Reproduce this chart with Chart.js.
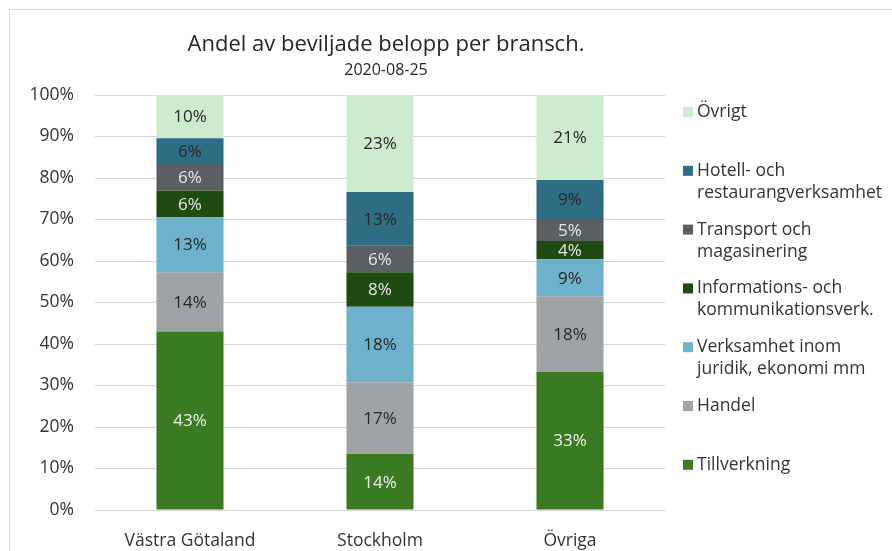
<!DOCTYPE html>
<html>
<head>
<meta charset="utf-8">
<script src="https://cdn.jsdelivr.net/npm/chart.js@4.4.1/dist/chart.umd.min.js"></script>
<style>
  html, body { margin: 0; padding: 0; background: #fff; }
  #wrap { width: 892px; height: 551px; position: relative; }
</style>
</head>
<body>
<div id="wrap"><canvas id="chart_andelBransch"></canvas></div>
<script>
// data (share in % of granted amount)
const regions = ['Västra Götaland', 'Stockholm', 'Övriga'];
const tillverkning = [43.0, 13.5, 33.3];
const handel = [14.3, 17.3, 18.2];
const juridikEkonomi = [13.3, 18.2, 8.9];
const infoKomm = [6.4, 8.3, 4.4];
const transport = [6.4, 6.4, 5.3];
const hotellRestaurang = [6.2, 12.9, 9.4];
const ovrigt = [10.4, 23.4, 20.5];
const yTicks = ['0%', '10%', '20%', '30%', '40%', '50%', '60%', '70%', '80%', '90%', '100%'];

const FONT = "'Open Sans', sans-serif";

const series = [
  { label: ['Tillverkning'], data: tillverkning, color: '#3a7a22', text: '#f2f2f2' },
  { label: ['Handel'], data: handel, color: '#a0a3a5', text: '#262626' },
  { label: ['Verksamhet inom', 'juridik, ekonomi mm'], data: juridikEkonomi, color: '#6eb1cb', text: '#262626' },
  { label: ['Informations- och', 'kommunikationsverk.'], data: infoKomm, color: '#1f4a10', text: '#e8e8e8' },
  { label: ['Transport och', 'magasinering'], data: transport, color: '#5b5f61', text: '#e8e8e8' },
  { label: ['Hotell- och', 'restaurangverksamhet'], data: hotellRestaurang, color: '#2e6d84', text: '#262626' },
  { label: ['Övrigt'], data: ovrigt, color: '#cdecce', text: '#262626' }
];

const extras = {
  id: 'extras',
  afterDatasetsDraw: (chart) => {
    const ctx = chart.ctx;
    ctx.save();
    ctx.font = '17px ' + FONT;
    ctx.textAlign = 'center';
    ctx.textBaseline = 'middle';
    chart.data.datasets.forEach((ds, i) => {
      const meta = chart.getDatasetMeta(i);
      meta.data.forEach((bar, j) => {
        ctx.fillStyle = series[i].text;
        ctx.fillText(Math.round(ds.data[j]) + '%', bar.x, (bar.y + bar.base) / 2 + 1);
      });
    });
    ctx.restore();
  },
  afterDraw: (chart) => {
    const ctx = chart.ctx;
    ctx.save();
    // frame (only top/left visible in the reference crop)
    ctx.strokeStyle = '#d9d9d9';
    ctx.lineWidth = 1;
    ctx.beginPath();
    ctx.moveTo(9.5, chart.height);
    ctx.lineTo(9.5, 9.5);
    ctx.lineTo(chart.width, 9.5);
    ctx.stroke();
    // title + subtitle
    ctx.fillStyle = '#262626';
    ctx.textAlign = 'center';
    ctx.textBaseline = 'middle';
    ctx.font = '22px ' + FONT;
    ctx.fillText('Andel av beviljade belopp per bransch.', 386, 45);
    ctx.font = '16px ' + FONT;
    ctx.fillText('2020-08-25', 386, 70);
    // legend, top item first
    ctx.textAlign = 'left';
    ctx.font = '17.5px ' + FONT;
    const n = series.length;
    for (let k = 0; k < n; k++) {
      const s = series[n - 1 - k];
      const y = 112 + k * 58.8;
      ctx.fillStyle = s.color;
      ctx.fillRect(683, y - 5, 10, 10);
      ctx.fillStyle = '#333333';
      s.label.forEach((line, li) => ctx.fillText(line, 697, y + li * 22));
    }
    ctx.restore();
  }
};

new Chart(document.getElementById('chart_andelBransch'), {
  type: 'bar',
  data: {
    labels: regions,
    datasets: series.map(s => ({
      label: s.label.join(' '),
      data: s.data,
      backgroundColor: s.color,
      borderWidth: 0,
      barPercentage: 0.353,
      categoryPercentage: 1
    }))
  },
  options: {
    animation: false,
    responsive: true,
    maintainAspectRatio: false,
    layout: { padding: { left: 0, right: 227, top: 95, bottom: 0 } },
    plugins: {
      legend: { display: false },
      title: { display: false },
      tooltip: { enabled: false }
    },
    scales: {
      x: {
        stacked: true,
        grid: { display: false },
        border: { display: true, color: '#d9d9d9' },
        ticks: { color: '#333333', font: { family: FONT, size: 17.5 }, padding: 13 },
        afterFit: (scale) => { scale.height = 41; }
      },
      y: {
        stacked: true,
        min: 0,
        max: 100,
        grid: { color: '#d9d9d9', drawTicks: false },
        border: { display: false },
        ticks: {
          stepSize: 10,
          padding: 21,
          color: '#333333',
          font: { family: FONT, size: 17.5 },
          callback: (v, i) => yTicks[i]
        },
        afterFit: (scale) => { scale.width = 95; }
      }
    }
  },
  plugins: [extras]
});
</script>
</body>
</html>
